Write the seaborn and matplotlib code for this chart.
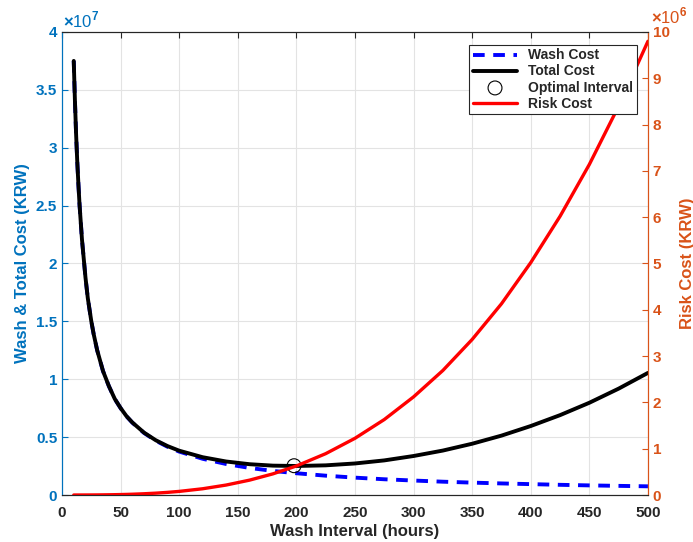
import numpy as np
import pandas as pd
import matplotlib
matplotlib.use('Agg')
import matplotlib.pyplot as plt
import seaborn as sns
from matplotlib.ticker import FuncFormatter

# ── Data ──────────────────────────────────────────────────────────
interval = [10, 11, 12, 13, 14, 15, 17, 20, 22, 25, 27, 30, 35, 40, 45,
            50, 55, 60, 70, 80, 90, 100, 120, 140, 160, 180, 200, 225,
            250, 275, 300, 325, 350, 375, 400, 425, 450, 475, 500]
wash_cost = [3.75e7, 3.41e7, 3.12e7, 2.88e7, 2.68e7, 2.50e7, 2.21e7,
             1.88e7, 1.70e7, 1.50e7, 1.39e7, 1.25e7, 1.07e7, 0.94e7,
             0.83e7, 0.75e7, 0.68e7, 0.625e7, 0.536e7, 0.469e7, 0.417e7,
             0.375e7, 0.313e7, 0.268e7, 0.234e7, 0.208e7, 0.188e7,
             0.167e7, 0.150e7, 0.136e7, 0.125e7, 0.115e7, 0.107e7,
             0.100e7, 0.094e7, 0.088e7, 0.083e7, 0.079e7, 0.075e7]
risk_cost = [0.0001e6, 0.0001e6, 0.0001e6, 0.0002e6, 0.0002e6, 0.0003e6,
             0.0004e6, 0.0006e6, 0.0008e6, 0.0012e6, 0.0015e6, 0.002e6,
             0.0034e6, 0.005e6, 0.0071e6, 0.0098e6, 0.013e6, 0.017e6,
             0.027e6, 0.040e6, 0.057e6, 0.078e6, 0.135e6, 0.215e6,
             0.321e6, 0.457e6, 0.627e6, 0.893e6, 1.225e6, 1.63e6, 2.12e6,
             2.69e6, 3.36e6, 4.13e6, 5.02e6, 6.02e6, 7.14e6, 8.40e6, 9.80e6]
opt_interval = [198]
opt_cost = [2.53e6]

df = pd.DataFrame({"interval": interval, "wash": wash_cost, "risk": risk_cost})
df["total"] = df["wash"] + df["risk"]

C_LEFT = '#0072BD'
C_RIGHT = '#D95319'
C_AX = '#262626'

sns.set_style("white")
plt.rcParams['font.family'] = ['Liberation Sans', 'DejaVu Sans']
plt.rcParams['mathtext.fontset'] = 'custom'
plt.rcParams['mathtext.rm'] = 'Liberation Sans:bold'
plt.rcParams['mathtext.bf'] = 'Liberation Sans:bold'

fig = plt.figure(figsize=(6.93, 5.42), dpi=100)
ax = fig.add_axes([0.0895, 0.0867, 0.8455, 0.8543])
ax2 = ax.twinx()

sns.lineplot(data=df, x="interval", y="wash", ax=ax, color='#0000FF',
             linestyle=(0, (3, 2.2)), linewidth=2.8, label="Wash Cost")
sns.lineplot(data=df, x="interval", y="total", ax=ax, color='black',
             linewidth=2.8, label="Total Cost")
sns.scatterplot(x=opt_interval, y=opt_cost, ax=ax, s=100, facecolor='none',
                edgecolor='black', linewidth=0.8, label="Optimal Interval",
                zorder=5)
sns.lineplot(data=df, x="interval", y="risk", ax=ax2, color='#FF0000',
             linewidth=2.4, label="Risk Cost")

ax.set_xlim(0, 500)
ax.set_ylim(0, 4e7)
ax2.set_ylim(0, 1e7)
ax.set_xticks(np.arange(0, 501, 50))
ax.set_yticks(np.arange(0, 4.01e7, 0.5e7))
ax2.set_yticks(np.arange(0, 10.01e6, 1e6))

ax.yaxis.set_major_formatter(FuncFormatter(lambda v, p: f"{v / 1e7:g}"))
ax2.yaxis.set_major_formatter(FuncFormatter(lambda v, p: f"{v / 1e6:g}"))
ax.text(0.002, 1.004, r'$\times$10$^{7}$', transform=ax.transAxes,
        color=C_LEFT, fontsize=12, ha='left', va='bottom')
ax2.text(1.005, 1.013, r'$\times$10$^{6}$', transform=ax2.transAxes,
         color=C_RIGHT, fontsize=12, ha='left', va='bottom')

ax.grid(True, color='#e3e3e3', linewidth=0.8)
ax.set_axisbelow(True)

ax.set_xlabel("Wash Interval (hours)", fontsize=12, fontweight='bold',
              color=C_AX, labelpad=3)
ax.set_ylabel("Wash & Total Cost (KRW)", fontsize=12, fontweight='bold',
              color=C_LEFT, labelpad=4)
ax2.set_ylabel("Risk Cost (KRW)", fontsize=12, fontweight='bold',
               color=C_RIGHT, labelpad=7)

ax.tick_params(axis='x', direction='in', colors=C_AX, labelsize=11,
               length=4, top=True, pad=8)
ax.tick_params(axis='y', direction='in', colors=C_LEFT, labelsize=11,
               length=4)
ax2.tick_params(axis='y', direction='in', colors=C_RIGHT, labelsize=11,
                length=4)
for lbl in ax.get_xticklabels() + ax.get_yticklabels() + ax2.get_yticklabels():
    lbl.set_fontweight('bold')

for a in (ax, ax2):
    for s in a.spines.values():
        s.set_linewidth(0.8)
    a.spines['top'].set_color(C_AX)
    a.spines['bottom'].set_color(C_AX)
    a.spines['left'].set_color(C_LEFT)
    a.spines['right'].set_color(C_RIGHT)

h1, l1 = ax.get_legend_handles_labels()
h2, l2 = ax2.get_legend_handles_labels()
if ax.get_legend():
    ax.get_legend().remove()
if ax2.get_legend():
    ax2.get_legend().remove()
leg = ax2.legend(h1 + h2, l1 + l2, loc='upper right',
                 bbox_to_anchor=(0.981, 0.972), borderaxespad=0,
                 fancybox=False, edgecolor=C_AX, framealpha=1,
                 handlelength=3.2, prop={'weight': 'bold', 'size': 10},
                 borderpad=0.25, labelspacing=0.15, handletextpad=0.8)
leg.get_frame().set_linewidth(0.8)

fig.savefig("out.png", dpi=100)
